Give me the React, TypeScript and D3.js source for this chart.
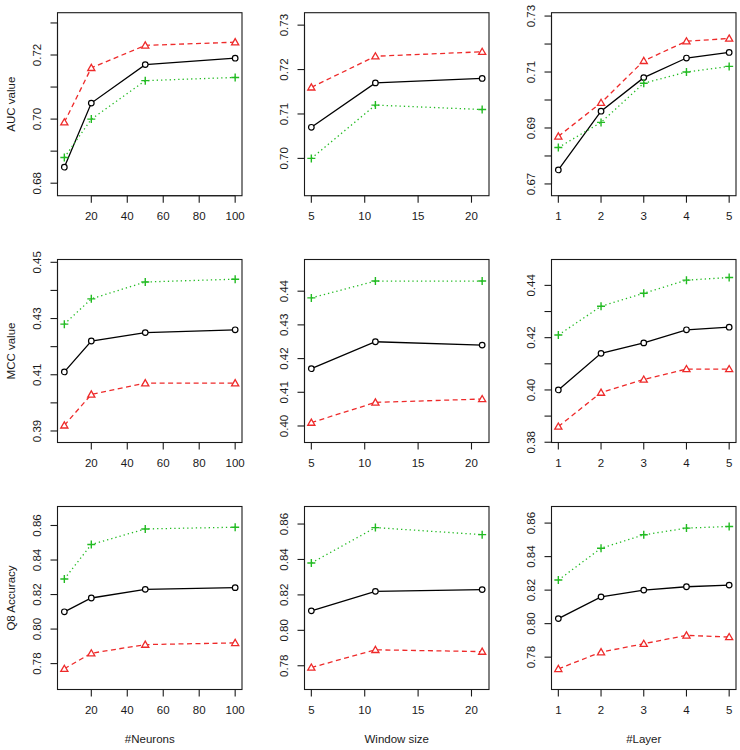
import React, { useEffect, useRef } from "react";
import * as d3 from "d3";

// x values for each column
const xNeurons = [5, 20, 50, 100];
const xWindow = [5, 11, 21];
const xLayer = [1, 2, 3, 4, 5];

// AUC row
const aucNeuronsBlack = [0.685, 0.705, 0.717, 0.719];
const aucNeuronsRed = [0.699, 0.716, 0.723, 0.724];
const aucNeuronsGreen = [0.688, 0.7, 0.712, 0.713];
const aucWindowBlack = [0.707, 0.717, 0.718];
const aucWindowRed = [0.716, 0.723, 0.724];
const aucWindowGreen = [0.7, 0.712, 0.711];
const aucLayerBlack = [0.675, 0.696, 0.708, 0.715, 0.717];
const aucLayerRed = [0.687, 0.699, 0.714, 0.721, 0.722];
const aucLayerGreen = [0.683, 0.692, 0.706, 0.71, 0.712];

// MCC row
const mccNeuronsBlack = [0.411, 0.422, 0.425, 0.426];
const mccNeuronsRed = [0.392, 0.403, 0.407, 0.407];
const mccNeuronsGreen = [0.428, 0.437, 0.443, 0.444];
const mccWindowBlack = [0.417, 0.425, 0.424];
const mccWindowRed = [0.401, 0.407, 0.408];
const mccWindowGreen = [0.438, 0.443, 0.443];
const mccLayerBlack = [0.4, 0.414, 0.418, 0.423, 0.424];
const mccLayerRed = [0.386, 0.399, 0.404, 0.408, 0.408];
const mccLayerGreen = [0.421, 0.432, 0.437, 0.442, 0.443];

// Q8 row
const q8NeuronsBlack = [0.81, 0.818, 0.823, 0.824];
const q8NeuronsRed = [0.777, 0.786, 0.791, 0.792];
const q8NeuronsGreen = [0.829, 0.849, 0.858, 0.859];
const q8WindowBlack = [0.811, 0.822, 0.823];
const q8WindowRed = [0.779, 0.789, 0.788];
const q8WindowGreen = [0.838, 0.858, 0.854];
const q8LayerBlack = [0.803, 0.816, 0.82, 0.822, 0.823];
const q8LayerRed = [0.773, 0.783, 0.788, 0.793, 0.792];
const q8LayerGreen = [0.826, 0.845, 0.853, 0.857, 0.858];

// axis ticks / labels
const xTicksNeurons = [20, 40, 60, 80, 100];
const xTicksWindow = [5, 10, 15, 20];
const xTicksLayer = [1, 2, 3, 4, 5];
const rowTitles = ["AUC value", "MCC value", "Q8 Accuracy"];
const colTitles = ["#Neurons", "Window size", "#Layer"];

const panels = [
  { row: 0, col: 0, x: xNeurons, black: aucNeuronsBlack, red: aucNeuronsRed, green: aucNeuronsGreen,
    xd: [1.2, 103.8], yd: [0.6761, 0.7332], xt: xTicksNeurons,
    yt: [0.68, 0.69, 0.7, 0.71, 0.72, 0.73], yl: [0.68, 0.7, 0.72] },
  { row: 0, col: 1, x: xWindow, black: aucWindowBlack, red: aucWindowRed, green: aucWindowGreen,
    xd: [4.36, 21.64], yd: [0.6916, 0.7328], xt: xTicksWindow,
    yt: [0.7, 0.71, 0.72, 0.73], yl: [0.7, 0.71, 0.72, 0.73] },
  { row: 0, col: 2, x: xLayer, black: aucLayerBlack, red: aucLayerRed, green: aucLayerGreen,
    xd: [0.84, 5.16], yd: [0.6658, 0.7312], xt: xTicksLayer,
    yt: [0.67, 0.68, 0.69, 0.7, 0.71, 0.72, 0.73], yl: [0.67, 0.69, 0.71, 0.73] },
  { row: 1, col: 0, x: xNeurons, black: mccNeuronsBlack, red: mccNeuronsRed, green: mccNeuronsGreen,
    xd: [1.2, 103.8], yd: [0.3859, 0.451], xt: xTicksNeurons,
    yt: [0.39, 0.4, 0.41, 0.42, 0.43, 0.44, 0.45], yl: [0.39, 0.41, 0.43, 0.45] },
  { row: 1, col: 1, x: xWindow, black: mccWindowBlack, red: mccWindowRed, green: mccWindowGreen,
    xd: [4.36, 21.64], yd: [0.3951, 0.4494], xt: xTicksWindow,
    yt: [0.4, 0.41, 0.42, 0.43, 0.44], yl: [0.4, 0.41, 0.42, 0.43, 0.44] },
  { row: 1, col: 2, x: xLayer, black: mccLayerBlack, red: mccLayerRed, green: mccLayerGreen,
    xd: [0.84, 5.16], yd: [0.3799, 0.4499], xt: xTicksLayer,
    yt: [0.38, 0.39, 0.4, 0.41, 0.42, 0.43, 0.44], yl: [0.38, 0.4, 0.42, 0.44] },
  { row: 2, col: 0, x: xNeurons, black: q8NeuronsBlack, red: q8NeuronsRed, green: q8NeuronsGreen,
    xd: [1.2, 103.8], yd: [0.765, 0.871], xt: xTicksNeurons,
    yt: [0.78, 0.8, 0.82, 0.84, 0.86], yl: [0.78, 0.8, 0.82, 0.84, 0.86] },
  { row: 2, col: 1, x: xWindow, black: q8WindowBlack, red: q8WindowRed, green: q8WindowGreen,
    xd: [4.36, 21.64], yd: [0.7666, 0.8699], xt: xTicksWindow,
    yt: [0.78, 0.8, 0.82, 0.84, 0.86], yl: [0.78, 0.8, 0.82, 0.84, 0.86] },
  { row: 2, col: 2, x: xLayer, black: q8LayerBlack, red: q8LayerRed, green: q8LayerGreen,
    xd: [0.84, 5.16], yd: [0.7607, 0.8699], xt: xTicksLayer,
    yt: [0.78, 0.8, 0.82, 0.84, 0.86], yl: [0.78, 0.8, 0.82, 0.84, 0.86] },
];

const W = 740;
const H = 750;
const boxLeft = [57.5, 304.5, 551.5];
const boxTop = [12.7, 259.5, 506.5];
const boxW = 184.5;
const boxH = 183;
const FONT = "'Liberation Sans', Arial, Helvetica, sans-serif";
const RED = "#ee2a2a";
const GREEN = "#22bb22";
const INK = "#1a1a1a";

const App = () => {
  const svgRef = useRef<SVGSVGElement>(null);

  useEffect(() => {
    const svg = d3.select(svgRef.current);
    svg.selectAll("*").remove();

    panels.forEach((p) => {
      const L = boxLeft[p.col];
      const T = boxTop[p.row];
      const g = svg.append("g").attr("transform", `translate(${L},${T})`);
      const xScale = d3.scaleLinear().domain(p.xd).range([0, boxW]);
      const yScale = d3.scaleLinear().domain(p.yd).range([boxH, 0]);

      // box
      g.append("rect")
        .attr("width", boxW).attr("height", boxH)
        .attr("fill", "none").attr("stroke", INK).attr("stroke-width", 1.1);

      // x axis
      const xa = g.append("g").attr("transform", `translate(0,${boxH})`);
      xa.append("line")
        .attr("x1", xScale(p.xt[0])).attr("x2", xScale(p.xt[p.xt.length - 1]))
        .attr("stroke", INK).attr("stroke-width", 1.1);
      xa.selectAll(".xt").data(p.xt).join("line")
        .attr("x1", (d) => xScale(d)).attr("x2", (d) => xScale(d))
        .attr("y1", 0).attr("y2", 7)
        .attr("stroke", INK).attr("stroke-width", 1.1);
      xa.selectAll(".xl").data(p.xt).join("text")
        .attr("x", (d) => xScale(d)).attr("y", 24.5)
        .attr("text-anchor", "middle")
        .attr("font-family", FONT).attr("font-size", 11.5).attr("fill", INK)
        .text((d) => String(d));

      // y axis
      const ya = g.append("g");
      ya.append("line")
        .attr("y1", yScale(p.yt[0])).attr("y2", yScale(p.yt[p.yt.length - 1]))
        .attr("stroke", INK).attr("stroke-width", 1.1);
      ya.selectAll(".yt").data(p.yt).join("line")
        .attr("x1", 0).attr("x2", -7)
        .attr("y1", (d) => yScale(d)).attr("y2", (d) => yScale(d))
        .attr("stroke", INK).attr("stroke-width", 1.1);
      ya.selectAll(".yl").data(p.yl).join("text")
        .attr("transform", (d) => `translate(-16.5,${yScale(d)}) rotate(-90)`)
        .attr("text-anchor", "middle")
        .attr("font-family", FONT).attr("font-size", 11.5).attr("fill", INK)
        .text((d) => d3.format(".2f")(d));

      if (p.col === 0) {
        g.append("text")
          .attr("transform", `translate(-43,${boxH / 2}) rotate(-90)`)
          .attr("text-anchor", "middle")
          .attr("font-family", FONT).attr("font-size", 11.5).attr("fill", INK)
          .text(rowTitles[p.row]);
      }
      if (p.row === 2) {
        g.append("text")
          .attr("x", boxW / 2).attr("y", boxH + 53)
          .attr("text-anchor", "middle")
          .attr("font-family", FONT).attr("font-size", 11.5).attr("fill", INK)
          .text(colTitles[p.col]);
      }

      const line = d3.line<number>()
        .x((_, i) => xScale(p.x[i]))
        .y((d) => yScale(d));

      // black, solid, circles
      g.append("path").attr("d", line(p.black))
        .attr("fill", "none").attr("stroke", "#000").attr("stroke-width", 1.3);
      g.selectAll(".pb").data(p.black).join("circle")
        .attr("cx", (_, i) => xScale(p.x[i])).attr("cy", (d) => yScale(d))
        .attr("r", 2.8).attr("fill", "white").attr("stroke", "#000").attr("stroke-width", 1.2);

      // red, dashed, triangles
      g.append("path").attr("d", line(p.red))
        .attr("fill", "none").attr("stroke", RED).attr("stroke-width", 1.3)
        .attr("stroke-dasharray", "5,3.5");
      const tri = d3.symbol().type(d3.symbolTriangle).size(22);
      g.selectAll(".pr").data(p.red).join("path")
        .attr("d", tri())
        .attr("transform", (d, i) => `translate(${xScale(p.x[i])},${yScale(d) + 0.6})`)
        .attr("fill", "white").attr("stroke", RED).attr("stroke-width", 1.3);

      // green, dotted, plus
      g.append("path").attr("d", line(p.green))
        .attr("fill", "none").attr("stroke", GREEN).attr("stroke-width", 1.3)
        .attr("stroke-dasharray", "1.3,3");
      g.selectAll(".pg").data(p.green).join("path")
        .attr("d", (d, i) => {
          const cx = xScale(p.x[i]);
          const cy = yScale(d);
          return `M${cx - 4},${cy}H${cx + 4}M${cx},${cy - 4}V${cy + 4}`;
        })
        .attr("fill", "none").attr("stroke", GREEN).attr("stroke-width", 1.4);
    });
  }, []);

  return (
    <svg
      ref={svgRef}
      width={W}
      height={H}
      style={{ position: "absolute", left: 0, top: 0, background: "white" }}
    />
  );
};

export default App;
